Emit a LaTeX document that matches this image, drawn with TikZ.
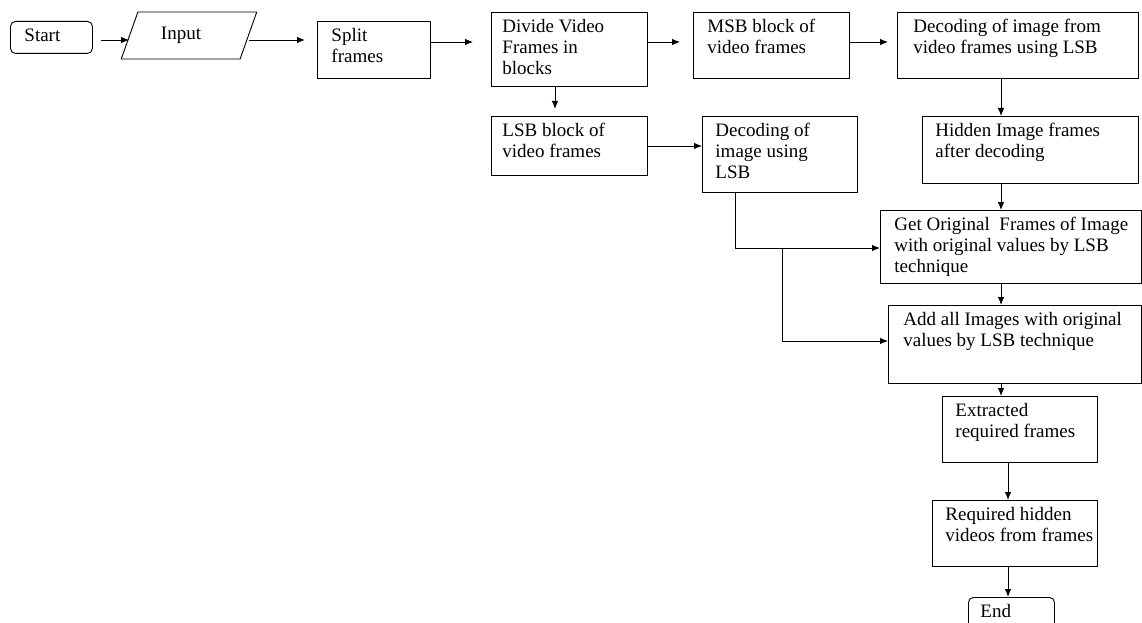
\documentclass[tikz,border=0pt]{standalone}
\usepackage{fontspec}
\setmainfont{Liberation Serif}
\usetikzlibrary{shapes.geometric,arrows.meta}
\newcommand{\boxtxt}[4]{\parbox[c][#2][t]{#1}{\raggedright\leftskip=#3\relax\vspace*{5pt}\strut #4}}

\begin{document}
\begin{tikzpicture}[x=1pt, y=-1pt,
  font=\fontsize{19pt}{21pt}\selectfont,
  box/.style={draw, line width=0.9pt, inner sep=0pt, anchor=north west},
  term/.style={box, rounded corners=5pt},
  io/.style={trapezium, draw, line width=0.9pt, trapezium left angle=61, trapezium right angle=119,
    trapezium stretches=true, minimum width=136pt, minimum height=47pt, inner sep=0pt},
  arr/.style={-{Latex[length=8pt,width=6.5pt]}, line width=0.9pt}]

\useasboundingbox (0,0) rectangle (1142,623);
\clip (0,0) rectangle (1142,623);

% rows and columns of the connectors
\coordinate (r40) at (0,40);
\coordinate (r42) at (0,42);
\coordinate (r248) at (0,248);
\coordinate (r341) at (0,341);
\coordinate (c555) at (555,0);
\coordinate (c735) at (735,0);
\coordinate (c782) at (782,0);
\coordinate (c1001) at (1001,0);
\coordinate (c1008) at (1008,0);

% top row
\node[term] (start) at (10,21) {\boxtxt{82pt}{32pt}{14pt}{Start}};
\node[io] (input) at (189,35.5) {Input\hspace{16pt}\mbox{}};
\node[box] (split) at (317,21) {\boxtxt{113pt}{57pt}{14pt}{Split\\frames}};
\node[box] (divide) at (491,12) {\boxtxt{156pt}{74pt}{11pt}{Divide Video\\Frames in\\blocks}};
\node[box] (msb) at (693,12) {\boxtxt{156pt}{66pt}{14pt}{MSB block of\\video frames}};
\node[box] (dectop) at (897,12) {\boxtxt{241pt}{66pt}{16pt}{Decoding of image from\\video frames using LSB}};

% second row
\node[box] (lsb) at (491,116) {\boxtxt{156pt}{59pt}{11pt}{LSB block of\\video frames}};
\node[box] (decimg) at (702,116) {\boxtxt{155pt}{76pt}{13pt}{Decoding of\\image using\\LSB}};
\node[box] (hidden) at (922,116) {\boxtxt{216pt}{67pt}{13pt}{Hidden Image frames\\after decoding}};

% right column
\node[box] (getorig) at (880,210) {\boxtxt{261pt}{73pt}{14pt}{Get Original\ \ Frames of Image\\with original values by LSB\\technique}};
\node[box] (addall) at (888,305) {\boxtxt{253pt}{78pt}{15pt}{Add all Images with original\\values by LSB technique}};
\node[box] (extracted) at (942,396) {\boxtxt{155pt}{66pt}{13pt}{Extracted\\required frames}};
\node[box] (required) at (932,500) {\boxtxt{165pt}{66pt}{13pt}{Required hidden\\videos from frames}};
\node[term] (end) at (968,597) {\boxtxt{86pt}{45pt}{12pt}{End}};

% connectors
\draw[arr, shorten <=8pt] (start.east |- r40) -- (input.west |- r40);
\draw[arr, shorten >=12pt] (input.east |- r40) -- (split.west |- r40);
\draw[arr, shorten >=18pt] (split.east |- r42) -- (divide.west |- r42);
\draw[arr, shorten >=13pt] (divide.east |- r42) -- (msb.west |- r42);
\draw[arr, shorten >=9pt] (msb.east |- r42) -- (dectop.west |- r42);
\draw[arr, shorten >=7pt] (divide.south -| c555) -- (lsb.north -| c555);
\draw[arr] (lsb.east) -- (lsb.east -| decimg.west);
\draw[arr] (dectop.south -| c1001) -- (hidden.north -| c1001);
\draw[arr] (decimg.south -| c735) |- (getorig.west |- r248);
\draw[arr] (c782 |- r248) |- (addall.west |- r341);
\draw[arr] (hidden.south -| c1001) -- (getorig.north -| c1001);
\draw[arr] (getorig.south -| c1001) -- (addall.north -| c1001);
\draw[arr] (addall.south -| c1001) -- (extracted.north -| c1001);
\draw[arr] (extracted.south -| c1008) -- (required.north -| c1008);
\draw[arr] (required.south -| c1008) -- (end.north -| c1008);
\end{tikzpicture}
\end{document}
